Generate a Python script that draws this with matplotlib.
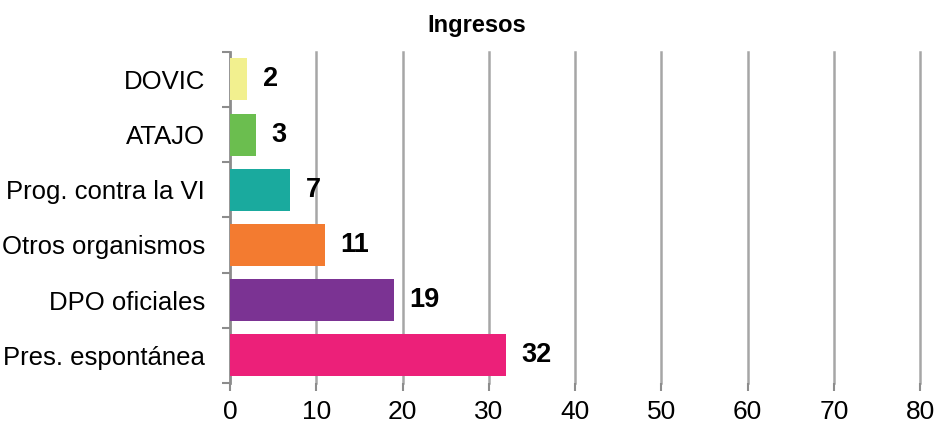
import matplotlib
matplotlib.use("Agg")
import matplotlib.pyplot as plt
import numpy as np

categories = ["Pres. espontánea", "DPO oficiales", "Otros organismos",
              "Prog. contra la VI", "ATAJO", "DOVIC"]
values = [32, 19, 11, 7, 3, 2]
colors = ["#EC2079", "#7B3393", "#F37B30", "#1AAA9E", "#6BBE4F", "#F2F08F"]
xticks = [0, 10, 20, 30, 40, 50, 60, 70, 80]

plt.rcParams["font.family"] = ["Liberation Sans", "DejaVu Sans"]

fig = plt.figure(figsize=(9.39, 4.25), dpi=100)
ax = fig.add_axes([0.245, 0.099, 0.735, 0.779])

y = np.arange(len(categories))
ax.barh(y, values, height=0.76, color=colors, zorder=3)
for yi, v in zip(y, values):
    ax.text(v + 1.8, yi, str(v), va="center", ha="left", fontsize=19.5,
            fontweight="bold", zorder=4)

ax.set_xlim(0, 80)
ax.set_ylim(-0.5, len(categories) - 0.5)
ax.set_xticks(xticks)
ax.set_xticklabels([str(t) for t in xticks], fontsize=19)
ax.set_yticks(y)
ax.set_yticklabels(categories, fontsize=18.5)
ax.tick_params(axis="y", length=0, pad=18)
ax.set_yticks(np.arange(-0.5, len(categories), 1.0), minor=True)
ax.tick_params(axis="y", which="minor", length=6, color="#8C8C8C", width=1.5)
ax.tick_params(axis="x", length=6, color="#8C8C8C", width=1.5, pad=6)

ax.grid(axis="x", color="#A6A6A6", linewidth=1.8, zorder=0)
for gl in ax.get_xgridlines():
    gl.set_clip_on(False)
for s in ["top", "right", "bottom"]:
    ax.spines[s].set_visible(False)
ax.spines["left"].set_color("#8C8C8C")
ax.spines["left"].set_linewidth(1.8)

fig.text(0.508, 0.94, "Ingresos", fontsize=17, fontweight="bold",
         ha="center", va="center")

fig.savefig("out.png", dpi=100)
